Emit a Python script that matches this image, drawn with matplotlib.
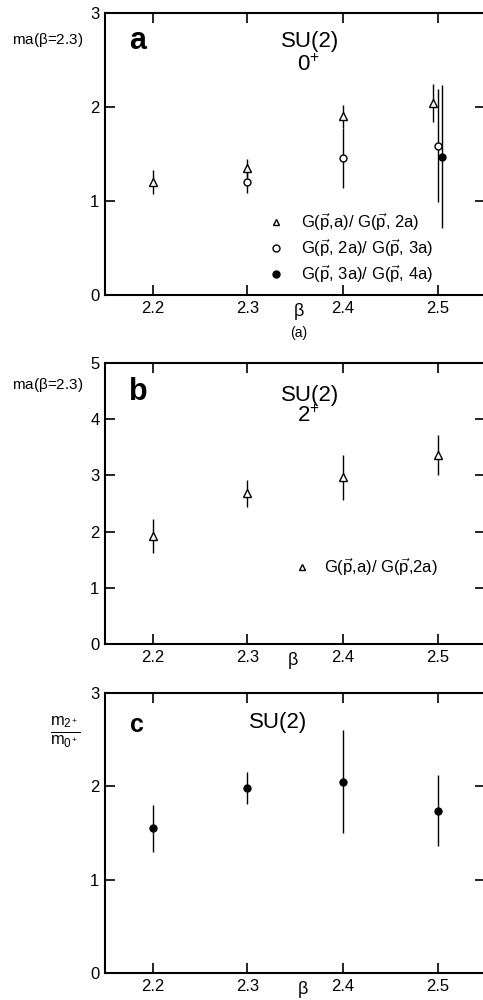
import matplotlib

matplotlib.use("Agg")
import matplotlib.pyplot as plt
from matplotlib.lines import Line2D

plt.rcParams["font.family"] = ["Liberation Sans", "DejaVu Sans"]
plt.rcParams["mathtext.fontset"] = "custom"
plt.rcParams["mathtext.rm"] = "Liberation Sans"
plt.rcParams["mathtext.it"] = "Liberation Sans"

# panel a: 0+ mass from three ratios
beta_tri_a = [2.2, 2.3, 2.4, 2.495]
mass_tri_a = [1.20, 1.35, 1.90, 2.04]
err_tri_a = [0.13, 0.10, 0.12, 0.20]

beta_circ_a = [2.3, 2.4, 2.5]
mass_circ_a = [1.20, 1.46, 1.59]
err_circ_a = [0.12, 0.32, 0.60]

beta_fill_a = [2.505]
mass_fill_a = [1.47]
err_fill_a = [0.76]

# panel b: 2+ mass
beta_b = [2.2, 2.3, 2.4, 2.5]
mass_b = [1.92, 2.68, 2.97, 3.36]
err_b = [0.30, 0.24, 0.40, 0.36]

# panel c: ratio m2+/m0+
beta_c = [2.2, 2.3, 2.4, 2.5]
ratio_c = [1.55, 1.98, 2.05, 1.74]
err_c = [0.25, 0.17, 0.55, 0.38]

xticks = [2.2, 2.3, 2.4, 2.5]
xtick_labels = ["2.2", "2.3", "2.4", "2.5"]

lbl1 = r"G($\vec{\mathrm{p}}$,a)/ G($\vec{\mathrm{p}}$, 2a)"
lbl2 = r"G($\vec{\mathrm{p}}$, 2a)/ G($\vec{\mathrm{p}}$, 3a)"
lbl3 = r"G($\vec{\mathrm{p}}$, 3a)/ G($\vec{\mathrm{p}}$, 4a)"

fig = plt.figure(figsize=(4.83, 10.0), dpi=100)
W = 380 / 483
ax_a = fig.add_axes([105 / 483, 1 - 295 / 1000, W, 282 / 1000])
ax_b = fig.add_axes([105 / 483, 1 - 644 / 1000, W, 281 / 1000])
ax_c = fig.add_axes([105 / 483, 1 - 973 / 1000, W, 280 / 1000])


def style_axes(ax, ymax):
    ax.set_xlim(2.15, 2.55)
    ax.set_ylim(0, ymax)
    ax.set_xticks(xticks)
    ax.set_xticklabels(xtick_labels)
    ax.set_yticks(range(ymax + 1))
    ax.tick_params(direction="in", top=True, right=True, length=7, width=1.2,
                   labelsize=12, pad=4)
    for s in ax.spines.values():
        s.set_linewidth(1.5)


ebkw = dict(color="black", elinewidth=1.0, capsize=0, linestyle="none")

# ---- panel a
ax = ax_a
style_axes(ax, 3)
ax.errorbar(beta_tri_a, mass_tri_a, yerr=err_tri_a, marker="^", markersize=6,
            markerfacecolor="white", markeredgecolor="black", **ebkw)
ax.errorbar(beta_circ_a, mass_circ_a, yerr=err_circ_a, marker="o", markersize=5,
            markerfacecolor="white", markeredgecolor="black", **ebkw)
ax.errorbar(beta_fill_a, mass_fill_a, yerr=err_fill_a, marker="o", markersize=5,
            markerfacecolor="black", markeredgecolor="black", **ebkw)
handles = [
    Line2D([], [], marker="^", markersize=5, color="black", markerfacecolor="white", linestyle="none"),
    Line2D([], [], marker="o", markersize=5, color="black", markerfacecolor="white", linestyle="none"),
    Line2D([], [], marker="o", markersize=5, color="black", markerfacecolor="black", linestyle="none"),
]
ax.legend(handles, [lbl1, lbl2, lbl3], loc="upper left", bbox_to_anchor=(0.41, 0.32),
          frameon=False, fontsize=12, handlelength=1.0, handletextpad=1.0,
          labelspacing=0.25, borderaxespad=0)
ax.text(0.087, 0.90, "a", transform=ax.transAxes, fontsize=22, fontweight="bold",
        ha="center", va="center")
ax.text(0.54, 0.90, "SU(2)", transform=ax.transAxes, fontsize=16, ha="center", va="center")
ax.text(0.535, 0.815, r"0$^{+}$", transform=ax.transAxes, fontsize=16,
        ha="center", va="center")
ax.text(0.51, -0.06, r"$\beta$", transform=ax.transAxes, fontsize=13, ha="center", va="center")
ax.text(0.51, -0.135, "(a)", transform=ax.transAxes, fontsize=10, ha="center", va="center")
fig.text(48 / 483, 1 - 40 / 1000, r"ma($\beta$=2.3)", fontsize=11, ha="center", va="center")

# ---- panel b
ax = ax_b
style_axes(ax, 5)
ax.errorbar(beta_b, mass_b, yerr=err_b, marker="^", markersize=6,
            markerfacecolor="white", markeredgecolor="black", **ebkw)
ax.legend(handles[:1], [lbl1.replace(", 2a", ",2a")], loc="center left",
          bbox_to_anchor=(0.48, 0.275), frameon=False, fontsize=12,
          handlelength=1.0, handletextpad=0.8, borderaxespad=0)
ax.text(0.087, 0.897, "b", transform=ax.transAxes, fontsize=22, fontweight="bold",
        ha="center", va="center")
ax.text(0.54, 0.886, "SU(2)", transform=ax.transAxes, fontsize=16, ha="center", va="center")
ax.text(0.535, 0.81, r"2$^{+}$", transform=ax.transAxes, fontsize=16,
        ha="center", va="center")
ax.text(0.495, -0.06, r"$\beta$", transform=ax.transAxes, fontsize=13, ha="center", va="center")
fig.text(48 / 483, 1 - 385 / 1000, r"ma($\beta$=2.3)", fontsize=11, ha="center", va="center")

# ---- panel c
ax = ax_c
style_axes(ax, 3)
ax.errorbar(beta_c, ratio_c, yerr=err_c, marker="o", markersize=5,
            markerfacecolor="black", markeredgecolor="black", **ebkw)
ax.text(0.085, 0.886, "c", transform=ax.transAxes, fontsize=18, fontweight="bold",
        ha="center", va="center")
ax.text(0.455, 0.896, "SU(2)", transform=ax.transAxes, fontsize=16, ha="center", va="center")
ax.text(0.52, -0.06, r"$\beta$", transform=ax.transAxes, fontsize=13, ha="center", va="center")
fig.text(65 / 483, 1 - 732 / 1000, r"$\frac{\mathrm{m}_{2^+}}{\mathrm{m}_{0^+}}$",
         fontsize=17, ha="center", va="center")

fig.savefig("out.png", dpi=100)
